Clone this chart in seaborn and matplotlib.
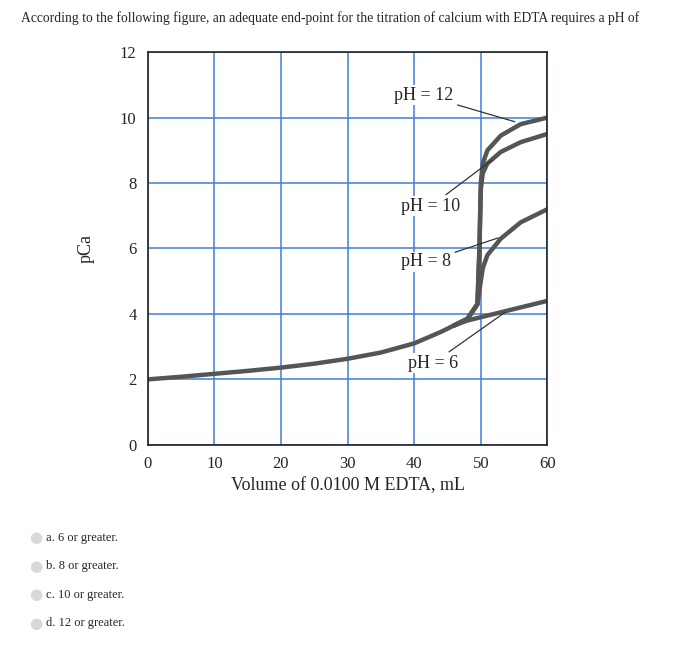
import matplotlib
matplotlib.use("Agg")
import matplotlib.pyplot as plt
import seaborn as sns
import pandas as pd

sns.set_theme(style="white")
plt.rcParams['font.family'] = ['Liberation Serif', 'DejaVu Serif']

# shared part of the titration curve (before the end point)
vol_common = [0, 5, 10, 15, 20, 25, 30, 35, 40, 44, 46]
pca_common = [2.0, 2.08, 2.17, 2.26, 2.36, 2.48, 2.63, 2.82, 3.1, 3.45, 3.65]

# branches after the end point for each pH
vol_ph6 = [46, 48, 50, 52, 55, 58, 60]
pca_ph6 = [3.65, 3.8, 3.9, 4.0, 4.15, 4.3, 4.4]
vol_ph8 = [46, 48, 49.5, 50, 50.3, 51, 53, 56, 60]
pca_ph8 = [3.65, 3.85, 4.3, 5.0, 5.4, 5.8, 6.3, 6.8, 7.2]
vol_ph10 = [46, 48, 49.5, 49.8, 50, 50.3, 51, 53, 56, 60]
pca_ph10 = [3.65, 3.85, 4.3, 6.0, 7.8, 8.3, 8.6, 8.95, 9.25, 9.5]
vol_ph12 = [46, 48, 49.5, 49.8, 50, 50.3, 51, 53, 56, 60]
pca_ph12 = [3.65, 3.85, 4.3, 6.0, 8.0, 8.6, 9.0, 9.45, 9.8, 10.0]

labels = ["pH = 12", "pH = 10", "pH = 8", "pH = 6"]
label_xy = [(37, 10.55), (38, 7.15), (38, 5.45), (39, 2.35)]
arrow_to = [(55.5, 9.85), (52, 8.75), (53, 6.35), (54, 4.1)]

options = ["a. 6 or greater.", "b. 8 or greater.", "c. 10 or greater.", "d. 12 or greater."]

fig = plt.figure(figsize=(7, 6.6), dpi=100)
fig.text(0.03, 0.972, "According to the following figure, an adequate end-point for the titration of calcium with EDTA requires a pH of",
         fontsize=9.8, va="center")

ax = fig.add_axes([0.211, 0.326, 0.571, 0.595])
line_kw = dict(color="#555555", linewidth=3.2, ax=ax, legend=False)
sns.lineplot(data=pd.DataFrame({"v": vol_common, "p": pca_common}), x="v", y="p", **line_kw)
for vx, vy in [(vol_ph6, pca_ph6), (vol_ph8, pca_ph8), (vol_ph10, pca_ph10), (vol_ph12, pca_ph12)]:
    sns.lineplot(data=pd.DataFrame({"v": vx, "p": vy}), x="v", y="p", sort=False, **line_kw)

ax.set_xlim(0, 60)
ax.set_ylim(0, 12)
ax.set_xticks(range(0, 61, 10))
ax.set_yticks(range(0, 13, 2))
ax.grid(True, color="#3f7fd9", linewidth=1.1)
for s in ax.spines.values():
    s.set_color("#222222")
    s.set_linewidth(1.2)
ax.tick_params(labelsize=12, length=0, pad=8)
ax.set_xlabel("Volume of 0.0100 M EDTA, mL", fontsize=13)
ax.set_ylabel("pCa", fontsize=13, labelpad=18)

for txt, xy, tgt in zip(labels, label_xy, arrow_to):
    ax.annotate(txt, xy=tgt, xytext=xy, fontsize=13,
                bbox=dict(facecolor="white", edgecolor="none", pad=1),
                arrowprops=dict(arrowstyle="-", color="#333333", lw=0.9))

for i, opt in enumerate(options):
    y = 0.185 - i * 0.043
    fig.text(0.042, y, "\u25CF", color="#d8d8d8", fontsize=11, va="center", family="DejaVu Sans")
    fig.text(0.066, y, opt, fontsize=9, va="center")

fig.savefig("out.png", dpi=100)
